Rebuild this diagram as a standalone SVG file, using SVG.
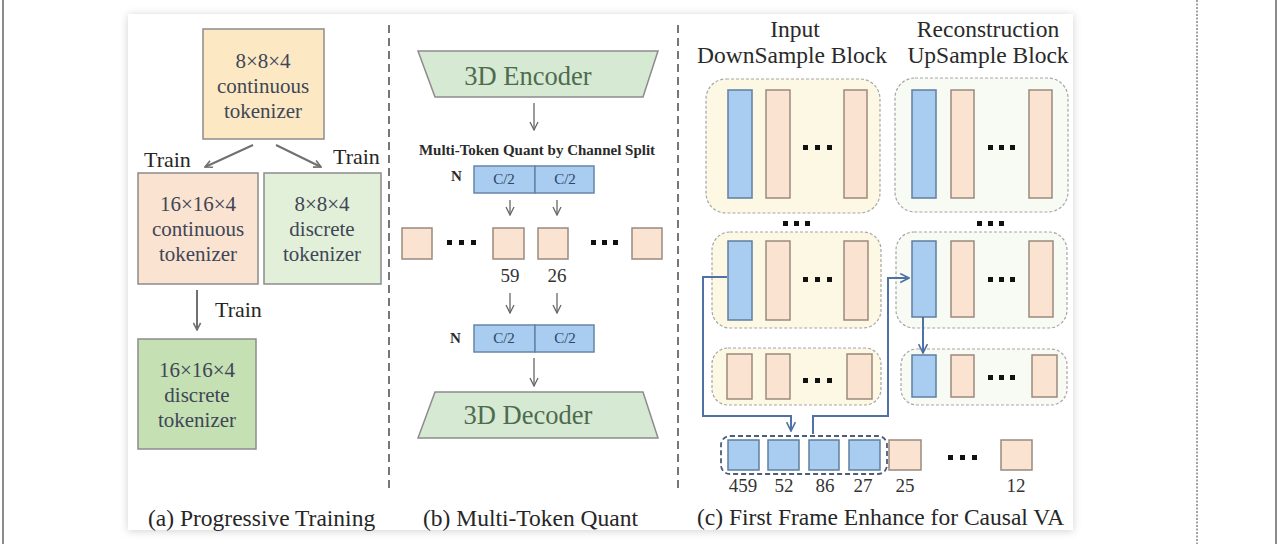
<svg xmlns="http://www.w3.org/2000/svg" width="1280" height="544" viewBox="0 0 1280 544">
<style>
text{font-family:"Liberation Serif","Times New Roman",serif}
.box{stroke:#8c8c8c;stroke-width:1.5}
.tk{font-size:21px;fill:#3f4656;text-anchor:middle}
.lbl{font-size:22px;fill:#262626}
.cap{font-size:23.5px;fill:#262626}
.hd{font-size:23.5px;fill:#2a2a2a;text-anchor:middle}
.trap{fill:#d6e9d2;stroke:#8c8c8c;stroke-width:1.5}
.trapt{font-size:26.5px;fill:#4e6b4f;text-anchor:middle}
.c2{fill:#a8cdf0;stroke:#6585a8;stroke-width:1.5}
.c2t{font-size:15px;fill:#2c4466;text-anchor:middle}
.nt{font-size:15px;fill:#2a2a2a;font-weight:bold}
.pc{fill:#fbe3d2;stroke:#9a8a7e;stroke-width:1.5}
.bl{fill:#a8cdf0;stroke:#5f7f9f;stroke-width:1.5}
.num{font-size:19px;fill:#333;text-anchor:middle}
.blkA{fill:#fdf8e3;stroke:#a6a6a6;stroke-width:1.2;stroke-dasharray:3 2}
.blkB{fill:#f8fbf4;stroke:#a6a6a6;stroke-width:1.2;stroke-dasharray:3 2}
.dots rect{fill:#111}
.garr{stroke:#707070;stroke-width:2;fill:none}
.tarr{stroke:#666;stroke-width:1.3;fill:none}
.barr{stroke:#4f71a6;stroke-width:2;fill:none}
.sep{stroke:#555;stroke-width:1.6;stroke-dasharray:8 5}
</style>
<defs>
<marker id="mg" viewBox="0 0 10 10" refX="9" refY="5" markerWidth="9" markerHeight="9" markerUnits="userSpaceOnUse" orient="auto"><path d="M1,1 L9,5 L1,9" fill="none" stroke="#707070" stroke-width="1.8"/></marker>
<marker id="mt" viewBox="0 0 10 10" refX="9" refY="5" markerWidth="10" markerHeight="10" markerUnits="userSpaceOnUse" orient="auto"><path d="M1,1 L9,5 L1,9" fill="none" stroke="#666" stroke-width="1.3"/></marker>
<marker id="mb" viewBox="0 0 10 10" refX="9" refY="5" markerWidth="11" markerHeight="11" markerUnits="userSpaceOnUse" orient="auto"><path d="M1,1 L9,5 L1,9" fill="none" stroke="#4f71a6" stroke-width="1.5"/></marker>
<filter id="sh" x="-5%" y="-5%" width="110%" height="110%"><feDropShadow dx="0" dy="1" stdDeviation="4" flood-color="#000" flood-opacity="0.18"/></filter>
</defs>
<rect width="1280" height="544" fill="#fff"/>
<line x1="3" y1="0" x2="3" y2="544" stroke="#666" stroke-width="1.5"/>
<line x1="1276" y1="0" x2="1276" y2="544" stroke="#666" stroke-width="1.5"/>
<line x1="1197" y1="0" x2="1197" y2="544" stroke="#444" stroke-width="1" stroke-dasharray="2 1.5"/>
<rect id="card" x="128" y="14" width="945" height="516" fill="#fff" filter="url(#sh)"/>
<g id="separators">
<line class="sep" x1="389" y1="25" x2="389" y2="488"/>
<line class="sep" x1="678" y1="25" x2="678" y2="488"/>
</g>

<!-- Panel (a) -->
<g id="a-top">
<rect class="box" x="203" y="29" width="121" height="110" fill="#fce9c4"/>
<text class="tk" x="263" y="68">8×8×4</text>
<text class="tk" x="263" y="93">continuous</text>
<text class="tk" x="263" y="118">tokenizer</text>
</g>
<g id="a-cont16">
<rect class="box" x="138" y="173" width="120" height="111" fill="#fbe3d2"/>
<text class="tk" x="198" y="211">16×16×4</text>
<text class="tk" x="198" y="236">continuous</text>
<text class="tk" x="198" y="261">tokenizer</text>
</g>
<g id="a-disc8">
<rect class="box" x="264" y="173" width="117" height="111" fill="#e2efd9"/>
<text class="tk" x="322" y="211">8×8×4</text>
<text class="tk" x="322" y="236">discrete</text>
<text class="tk" x="322" y="261">tokenizer</text>
</g>
<g id="a-disc16">
<rect class="box" x="138" y="339" width="118" height="110" fill="#c5e0b3"/>
<text class="tk" x="197" y="377">16×16×4</text>
<text class="tk" x="197" y="402">discrete</text>
<text class="tk" x="197" y="427">tokenizer</text>
</g>
<g id="a-labels">
<text class="lbl" x="144" y="167">Train</text>
<text class="lbl" x="333" y="164">Train</text>
<text class="lbl" x="215" y="317">Train</text>
<text class="cap" x="148" y="526">(a) Progressive Training</text>
</g>

<!-- Panel (b) -->
<g id="b-encoder">
<polygon class="trap" points="418,51 658,51 643,97 435,97"/>
<text class="trapt" x="528" y="85">3D Encoder</text>
</g>
<g id="b-split-label">
<text class="nt" x="537" y="155" text-anchor="middle" font-size="15.5" style="font-weight:bold">Multi-Token Quant by Channel  Split</text>
</g>
<g id="b-quant1">
<text class="nt" x="451" y="181">N</text>
<rect class="c2" x="474" y="166" width="61" height="27"/>
<rect class="c2" x="535" y="166" width="59" height="27"/>
<text class="c2t" x="504" y="184">C/2</text>
<text class="c2t" x="565" y="184">C/2</text>
</g>
<g id="b-tokens">
<rect class="pc" x="402" y="228" width="30" height="31"/>
<rect class="pc" x="493" y="228" width="31" height="31"/>
<rect class="pc" x="538" y="228" width="30" height="31"/>
<rect class="pc" x="632" y="228" width="30" height="31"/>
<g class="dots">
<rect x="447" y="240" width="5" height="5"/><rect x="459" y="240" width="5" height="5"/><rect x="471" y="240" width="5" height="5"/>
<rect x="591" y="240" width="5" height="5"/><rect x="602" y="240" width="5" height="5"/><rect x="613" y="240" width="5" height="5"/>
</g>
<text class="num" x="510" y="282">59</text>
<text class="num" x="557" y="282">26</text>
</g>
<g id="b-quant2">
<text class="nt" x="450" y="343">N</text>
<rect class="c2" x="474" y="325" width="61" height="27"/>
<rect class="c2" x="535" y="325" width="59" height="27"/>
<text class="c2t" x="504" y="343">C/2</text>
<text class="c2t" x="565" y="343">C/2</text>
</g>
<g id="b-decoder">
<polygon class="trap" points="435,392 643,392 658,438 418,438"/>
<text class="trapt" x="528" y="424">3D Decoder</text>
</g>
<text class="cap" x="423" y="526">(b) Multi-Token Quant</text>

<!-- Panel (c) -->
<g id="c-headers">
<text class="hd" x="795" y="37">Input</text>
<text class="hd" x="792" y="63">DownSample Block</text>
<text class="hd" x="988" y="37">Reconstruction</text>
<text class="hd" x="988" y="63">UpSample Block</text>
</g>
<g id="c-down1">
<rect class="blkA" x="706" y="79" width="174" height="134" rx="20"/>
<rect class="bl" x="728" y="90" width="24" height="108"/>
<rect class="pc" x="766" y="90" width="24" height="108"/>
<rect class="pc" x="844" y="90" width="23" height="108"/>
<g class="dots"><rect x="803" y="145" width="5" height="5"/><rect x="815" y="145" width="5" height="5"/><rect x="827" y="145" width="5" height="5"/></g>
</g>
<g id="c-up1">
<rect class="blkB" x="895" y="78" width="173" height="134" rx="20"/>
<rect class="bl" x="912" y="90" width="24" height="108"/>
<rect class="pc" x="951" y="90" width="23" height="108"/>
<rect class="pc" x="1029" y="90" width="23" height="108"/>
<g class="dots"><rect x="988" y="145" width="5" height="5"/><rect x="999" y="145" width="5" height="5"/><rect x="1010" y="145" width="5" height="5"/></g>
</g>
<g id="c-gapdots" class="dots">
<rect x="783" y="221" width="5" height="5"/><rect x="794" y="221" width="5" height="5"/><rect x="805" y="221" width="5" height="5"/>
<rect x="977" y="221" width="5" height="5"/><rect x="988" y="221" width="5" height="5"/><rect x="999" y="221" width="5" height="5"/>
</g>
<g id="c-down2">
<rect class="blkA" x="712" y="232" width="169" height="96" rx="18"/>
<rect class="bl" x="728" y="241" width="24" height="79"/>
<rect class="pc" x="766" y="241" width="24" height="79"/>
<rect class="pc" x="844" y="241" width="24" height="79"/>
<g class="dots"><rect x="803" y="277" width="5" height="5"/><rect x="815" y="277" width="5" height="5"/><rect x="827" y="277" width="5" height="5"/></g>
</g>
<g id="c-up2">
<rect class="blkB" x="896" y="232" width="171" height="96" rx="18"/>
<rect class="bl" x="912" y="241" width="24" height="76"/>
<rect class="pc" x="951" y="241" width="23" height="76"/>
<rect class="pc" x="1029" y="241" width="24" height="76"/>
<g class="dots"><rect x="988" y="277" width="5" height="5"/><rect x="999" y="277" width="5" height="5"/><rect x="1010" y="277" width="5" height="5"/></g>
</g>
<g id="c-down3">
<rect class="blkA" x="712" y="348" width="169" height="57" rx="16"/>
<rect class="pc" x="727" y="354" width="25" height="45"/>
<rect class="pc" x="766" y="354" width="24" height="45"/>
<rect class="pc" x="847" y="354" width="25" height="45"/>
<g class="dots"><rect x="803" y="378" width="5" height="5"/><rect x="815" y="378" width="5" height="5"/><rect x="827" y="378" width="5" height="5"/></g>
</g>
<g id="c-up3">
<rect class="blkB" x="901" y="349" width="166" height="56" rx="16"/>
<rect class="bl" x="912" y="355" width="24" height="42"/>
<rect class="pc" x="951" y="355" width="23" height="42"/>
<rect class="pc" x="1032" y="355" width="25" height="42"/>
<g class="dots"><rect x="988" y="375" width="5" height="5"/><rect x="999" y="375" width="5" height="5"/><rect x="1010" y="375" width="5" height="5"/></g>
</g>
<g id="c-tokens">
<rect x="721" y="436" width="166" height="38" rx="9" fill="none" stroke="#4d5d78" stroke-width="1.8" stroke-dasharray="5 3"/>
<rect class="bl" x="728" y="440" width="31" height="30"/>
<rect class="bl" x="768" y="440" width="31" height="30"/>
<rect class="bl" x="809" y="440" width="30" height="30"/>
<rect class="bl" x="849" y="440" width="31" height="30"/>
<rect class="pc" x="889" y="440" width="32" height="30"/>
<rect class="pc" x="1001" y="440" width="31" height="30"/>
<g class="dots"><rect x="948" y="455" width="5" height="5"/><rect x="960" y="455" width="5" height="5"/><rect x="972" y="455" width="5" height="5"/></g>
<text class="num" x="743" y="492">459</text>
<text class="num" x="784" y="492">52</text>
<text class="num" x="825" y="492">86</text>
<text class="num" x="863" y="492">27</text>
<text class="num" x="905" y="492">25</text>
<text class="num" x="1016" y="492">12</text>
</g>
<text class="cap" x="697" y="525">(c) First Frame Enhance for Causal VA</text>

<g id="connectors">
<line class="garr" x1="253" y1="145" x2="205" y2="167" marker-end="url(#mg)"/>
<line class="garr" x1="276" y1="145" x2="321" y2="167" marker-end="url(#mg)"/>
<line class="garr" x1="197" y1="290" x2="197" y2="330" marker-end="url(#mg)"/>
<line class="tarr" x1="534" y1="103" x2="534" y2="130" marker-end="url(#mt)"/>
<line class="tarr" x1="510" y1="200" x2="510" y2="215" marker-end="url(#mt)"/>
<line class="tarr" x1="557" y1="200" x2="557" y2="215" marker-end="url(#mt)"/>
<line class="tarr" x1="510" y1="293" x2="510" y2="313" marker-end="url(#mt)"/>
<line class="tarr" x1="557" y1="293" x2="557" y2="313" marker-end="url(#mt)"/>
<line class="tarr" x1="534" y1="358" x2="534" y2="386" marker-end="url(#mt)"/>
<polyline class="barr" points="727,277 703,277 703,416 791,416 791,431" marker-end="url(#mb)"/>
<polyline class="barr" points="813,434 813,416 888,416 888,278 909,278" marker-end="url(#mb)"/>
<line class="barr" x1="923" y1="317" x2="923" y2="353" marker-end="url(#mb)" stroke="#5a7bb5"/>
</g>
</svg>
